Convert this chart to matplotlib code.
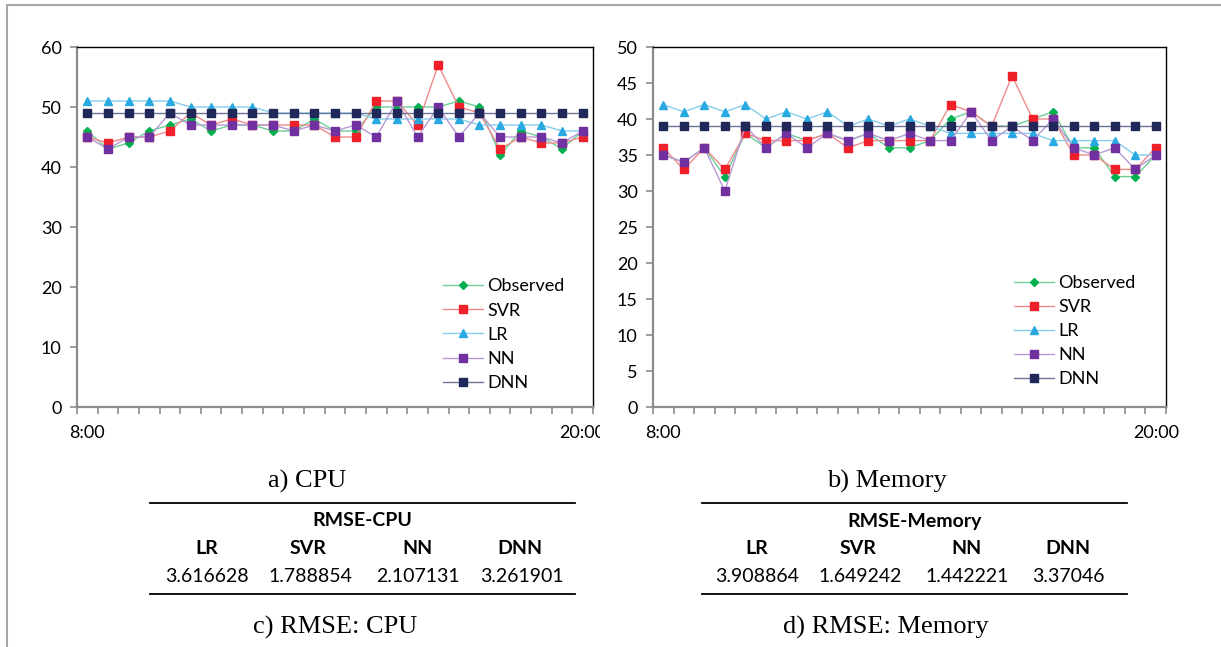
import matplotlib
matplotlib.use("Agg")
import matplotlib.pyplot as plt
from matplotlib.lines import Line2D
from matplotlib.transforms import Bbox

# Data (25 samples, 8:00 -> 20:00)
x_labels = ['8:00', '20:00']
cpu_observed = [46, 43, 44, 46, 47, 48, 46, 47, 47, 46, 46, 48, 46, 46, 50, 50, 50, 50, 51, 50, 42, 46, 45, 43, 46]
cpu_svr = [45, 44, 45, 45, 46, 49, 47, 48, 47, 47, 47, 47, 45, 45, 51, 51, 47, 57, 50, 49, 43, 45, 44, 44, 45]
cpu_lr = [51, 51, 51, 51, 51, 50, 50, 50, 50, 49, 49, 49, 49, 49, 48, 48, 48, 48, 48, 47, 47, 47, 47, 46, 46]
cpu_nn = [45, 43, 45, 45, 49, 47, 47, 47, 47, 47, 46, 47, 46, 47, 45, 51, 45, 50, 45, 49, 45, 45, 45, 44, 46]
cpu_dnn = [49, 49, 49, 49, 49, 49, 49, 49, 49, 49, 49, 49, 49, 49, 49, 49, 49, 49, 49, 49, 49, 49, 49, 49, 49]

mem_observed = [35, 34, 36, 32, 38, 36, 38, 37, 38, 37, 38, 36, 36, 37, 40, 41, 39, 39, 40, 41, 36, 36, 32, 32, 35]
mem_svr = [36, 33, 36, 33, 38, 37, 37, 37, 38, 36, 37, 37, 37, 37, 42, 41, 39, 46, 40, 40, 35, 35, 33, 33, 36]
mem_lr = [42, 41, 42, 41, 42, 40, 41, 40, 41, 39, 40, 39, 40, 39, 38, 38, 38, 38, 38, 37, 37, 37, 37, 35, 35]
mem_nn = [35, 34, 36, 30, 39, 36, 38, 36, 38, 37, 38, 37, 38, 37, 37, 41, 37, 39, 37, 40, 36, 35, 36, 33, 35]
mem_dnn = [39, 39, 39, 39, 39, 39, 39, 39, 39, 39, 39, 39, 39, 39, 39, 39, 39, 39, 39, 39, 39, 39, 39, 39, 39]

models = ['LR', 'SVR', 'NN', 'DNN']
rmse_cpu = ['3.616628', '1.788854', '2.107131', '3.261901']
rmse_mem = ['3.908864', '1.649242', '1.442221', '3.37046']

# name, marker, marker size, marker colour, line colour
styles = [
    ('Observed', 'D', 3.8, '#00B050', '#6CCF98'),
    ('SVR', 's', 5.2, '#F0202A', '#F08A8A'),
    ('LR', '^', 5.8, '#29A9E1', '#86CDEE'),
    ('NN', 's', 5.2, '#7030A0', '#B899D4'),
    ('DNN', 's', 5.2, '#1F2858', '#6E7596'),
]

W, H = 1221, 647
fig = plt.figure(figsize=(W / 100, H / 100), dpi=100)
plt.rcParams['font.family'] = ['Lato', 'DejaVu Sans']


def fx(px):
    return px / W


def fy(py):
    return 1 - py / H


def draw_panel(rect, series, ymax, ystep, leg_anchor):
    ax = fig.add_axes(rect)
    xs = list(range(len(series[0])))
    for (name, mk, ms, mc, lc), ys in zip(styles, series):
        ax.plot(xs, ys, color=lc, lw=1.0, marker=mk, markersize=ms,
                markerfacecolor=mc, markeredgecolor=mc, label=name)
    ax.set_xlim(-0.5, len(xs) - 0.5)
    ax.set_ylim(0, ymax)
    ax.set_yticks(range(0, ymax + 1, ystep))
    ax.set_xticks([0, len(xs) - 1])
    ax.set_xticklabels(x_labels)
    ax.set_xticks([i - 0.5 for i in range(len(xs) + 1)], minor=True)
    ax.tick_params(axis='x', which='major', length=0, pad=13, labelsize=13)
    ax.tick_params(axis='x', which='minor', length=5, width=1.2, color='#8C8C8C', direction='out')
    ax.tick_params(axis='y', length=5, width=1.2, color='#8C8C8C', pad=6, labelsize=13)
    for s in ['top', 'right']:
        ax.spines[s].set_color('black')
        ax.spines[s].set_linewidth(1.0)
    for s in ['left', 'bottom']:
        ax.spines[s].set_color('#8C8C8C')
        ax.spines[s].set_linewidth(1.6)
    ax.legend(loc='upper left', bbox_to_anchor=leg_anchor, frameon=False,
              fontsize=13, handlelength=2.2, handletextpad=0.25,
              labelspacing=0.45, borderpad=0, borderaxespad=0)
    return ax


ax1 = draw_panel([fx(77), fy(407), fx(593) - fx(77), fy(47) - fy(407)],
                 [cpu_observed, cpu_svr, cpu_lr, cpu_nn, cpu_dnn], 60, 10, (0.709, 0.357))
ax2 = draw_panel([fx(653), fy(407), fx(1166) - fx(653), fy(47) - fy(407)],
                 [mem_observed, mem_svr, mem_lr, mem_nn, mem_dnn], 50, 5, (0.704, 0.367))

# the CPU "20:00" label is cut off by the neighbouring chart
lbl = ax1.get_xticklabels()[-1]
lbl.set_clip_on(True)
lbl.set_clip_box(Bbox([[0, 0], [600, H]]))

# outer frame
fig.add_artist(Line2D([fx(7), fx(7), 1], [0, fy(5), fy(5)], color='#A6A6A6', lw=1.5))

serif = ['Liberation Serif', 'DejaVu Serif']
fig.text(fx(307), fy(481), 'a) CPU', family=serif, fontsize=19, ha='center', va='center')
fig.text(fx(887), fy(481), 'b) Memory', family=serif, fontsize=19, ha='center', va='center')
fig.text(fx(335), fy(627), 'c) RMSE: CPU', family=serif, fontsize=19, ha='center', va='center')
fig.text(fx(886), fy(627), 'd) RMSE: Memory', family=serif, fontsize=19, ha='center', va='center')


def draw_table(x0, x1, title, cols, vals, col_x, val_x):
    for y in [503, 594]:
        fig.add_artist(Line2D([fx(x0), fx(x1)], [fy(y), fy(y)], color='black', lw=1.3))
    fig.text(fx((x0 + x1) / 2), fy(521), title, fontsize=14, fontweight='bold',
             ha='center', va='center')
    for c, v, cx, vx in zip(cols, vals, col_x, val_x):
        fig.text(fx(cx), fy(549), c, fontsize=14, fontweight='bold', ha='center', va='center')
        fig.text(fx(vx), fy(577), v, fontsize=14, ha='center', va='center')


draw_table(150, 575, 'RMSE-CPU', models, rmse_cpu,
           [207, 308, 417, 520], [207, 310, 418, 522])
draw_table(702, 1127, 'RMSE-Memory', models, rmse_mem,
           [757, 858, 967, 1068], [757, 860, 967, 1068])

fig.savefig('out.png', dpi=100)
